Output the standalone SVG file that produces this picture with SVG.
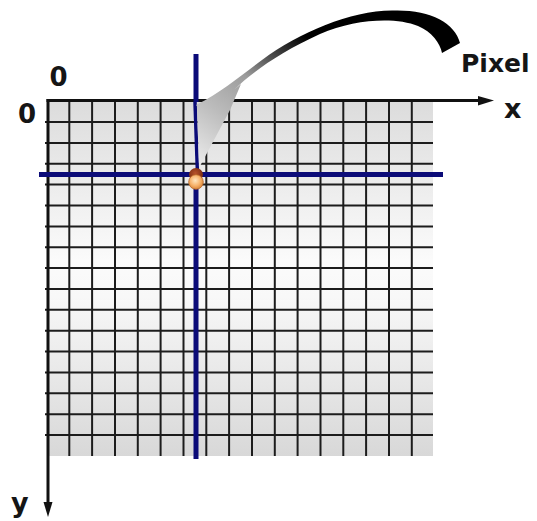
<svg xmlns="http://www.w3.org/2000/svg" width="537" height="521" viewBox="0 0 537 521">
  <style>
    .grid line { stroke: #1c1c1c; stroke-width: 2; }
    .axis { stroke: #111; stroke-width: 3; fill: none; }
    .blue { stroke: #0b0b78; fill: none; }
    .lbl { font-family: "DejaVu Sans", "Liberation Sans", sans-serif; font-weight: bold; fill: #151515; }
  </style>
  <defs>
    <linearGradient id="bg" x1="0" y1="0" x2="0" y2="1">
      <stop offset="0" stop-color="#dcdcdc"/>
      <stop offset="0.45" stop-color="#fbfbfb"/>
      <stop offset="0.55" stop-color="#f8f8f8"/>
      <stop offset="1" stop-color="#d8d8d8"/>
    </linearGradient>
    <linearGradient id="arrowGrad" gradientUnits="userSpaceOnUse" x1="300" y1="32" x2="205" y2="162">
      <stop offset="0" stop-color="#000"/>
      <stop offset="0.22" stop-color="#4a4a4a"/>
      <stop offset="0.42" stop-color="#9c9c9c"/>
      <stop offset="0.7" stop-color="#bcbcbc"/>
      <stop offset="1" stop-color="#e6e6e6"/>
    </linearGradient>
    <radialGradient id="bead" cx="0.45" cy="0.4" r="0.6">
      <stop offset="0" stop-color="#ffe6bf"/>
      <stop offset="0.6" stop-color="#f7b26a"/>
      <stop offset="1" stop-color="#d9863a"/>
    </radialGradient>
    <radialGradient id="cap" cx="0.45" cy="0.4" r="0.6">
      <stop offset="0" stop-color="#b8522a"/>
      <stop offset="1" stop-color="#742a10"/>
    </radialGradient>
  </defs>

  <rect id="canvas" x="48" y="101" width="385" height="355" fill="url(#bg)"/>

  <g id="grid" class="grid">
    <line x1="69.3" y1="101" x2="69.3" y2="456"/>
    <line x1="92.1" y1="101" x2="92.1" y2="456"/>
    <line x1="115" y1="101" x2="115" y2="456"/>
    <line x1="137.8" y1="101" x2="137.8" y2="456"/>
    <line x1="160.6" y1="101" x2="160.6" y2="456"/>
    <line x1="183.5" y1="101" x2="183.5" y2="456"/>
    <line x1="206.3" y1="101" x2="206.3" y2="456"/>
    <line x1="229.1" y1="101" x2="229.1" y2="456"/>
    <line x1="252" y1="101" x2="252" y2="456"/>
    <line x1="274.8" y1="101" x2="274.8" y2="456"/>
    <line x1="297.6" y1="101" x2="297.6" y2="456"/>
    <line x1="320.5" y1="101" x2="320.5" y2="456"/>
    <line x1="343.3" y1="101" x2="343.3" y2="456"/>
    <line x1="366.1" y1="101" x2="366.1" y2="456"/>
    <line x1="389" y1="101" x2="389" y2="456"/>
    <line x1="411.8" y1="101" x2="411.8" y2="456"/>
    <line x1="45" y1="122" x2="433" y2="122"/>
    <line x1="45" y1="142.9" x2="433" y2="142.9"/>
    <line x1="45" y1="163.7" x2="433" y2="163.7"/>
    <line x1="45" y1="184.6" x2="433" y2="184.6"/>
    <line x1="45" y1="205.5" x2="433" y2="205.5"/>
    <line x1="45" y1="226.4" x2="433" y2="226.4"/>
    <line x1="45" y1="247.2" x2="433" y2="247.2"/>
    <line x1="45" y1="268.1" x2="433" y2="268.1"/>
    <line x1="45" y1="289" x2="433" y2="289"/>
    <line x1="45" y1="309.8" x2="433" y2="309.8"/>
    <line x1="45" y1="330.7" x2="433" y2="330.7"/>
    <line x1="45" y1="351.6" x2="433" y2="351.6"/>
    <line x1="45" y1="372.4" x2="433" y2="372.4"/>
    <line x1="45" y1="393.3" x2="433" y2="393.3"/>
    <line x1="45" y1="414.2" x2="433" y2="414.2"/>
    <line x1="45" y1="435" x2="433" y2="435"/>
  </g>

  <g id="axes">
    <line class="axis" x1="46.5" y1="100.5" x2="480" y2="100.5"/>
    <polygon points="478,96 494,100.5 478,105.5" fill="#111"/>
    <line class="axis" x1="48" y1="99" x2="48" y2="504"/>
    <polygon points="43.5,502 48,517 52.5,502" fill="#111"/>
  </g>

  <g id="crosshair">
    <line class="blue" x1="39" y1="174.5" x2="443" y2="174.5" stroke-width="5"/>
    <line class="blue" x1="196" y1="54" x2="196" y2="102" stroke-width="5"/>
    <line class="blue" x1="195" y1="102" x2="197.5" y2="174" stroke-width="3.5"/>
    <line class="blue" x1="196" y1="172" x2="196" y2="459" stroke-width="5"/>
  </g>

  <g id="pixel-arrow">
    <path d="M460,43 C455,22 428,9 392,10.5 C350,11 300,32 262,60 C240,76 222,92 196,105 L197,106 L199,168 L230,110 L241,84 L235,89 C250,74 280,52 320,34 C355,19 395,17 418,26 C432,32 440,43 442,53 Z" fill="url(#arrowGrad)"/>
  </g>

  <g id="pixel-marker">
    <ellipse cx="196" cy="174.5" rx="7" ry="6.5" fill="url(#cap)"/>
    <circle cx="196" cy="182" r="7.3" fill="url(#bead)" stroke="#b8682a" stroke-width="0.8"/>
  </g>

  <g id="labels">
    <text class="lbl" x="58.5" y="86" font-size="26" text-anchor="middle">0</text>
    <text class="lbl" x="27" y="122.5" font-size="26" text-anchor="middle">0</text>
    <text class="lbl" x="461" y="72" font-size="25">Pixel</text>
    <text class="lbl" x="504" y="118" font-size="27">x</text>
    <text class="lbl" x="11" y="512" font-size="27">y</text>
  </g>
</svg>
